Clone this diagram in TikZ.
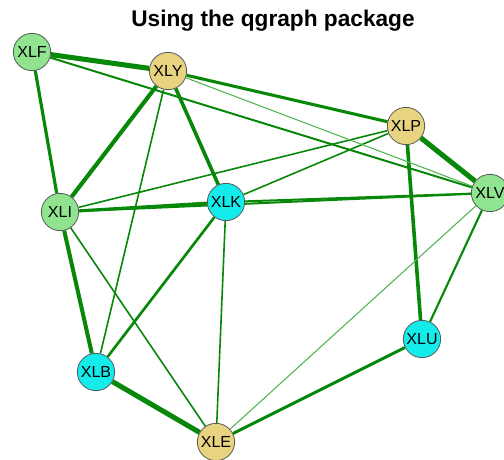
\documentclass[tikz,border=0pt]{standalone}
\usepackage{fontspec}
\setmainfont{Liberation Sans}
\usetikzlibrary{backgrounds}
\definecolor{nodegreen}{RGB}{144,228,144}
\definecolor{nodecyan}{RGB}{20,236,236}
\definecolor{nodetan}{RGB}{232,212,128}
\definecolor{edgedark}{RGB}{8,136,8}
\definecolor{edgelight}{RGB}{80,180,80}
\tikzset{
  vert/.style={circle, draw=black!65, line width=0.6pt, minimum size=28pt,
    inner sep=0pt, font=\fontsize{12}{12}\selectfont},
  grn/.style={vert, fill=nodegreen},
  cyn/.style={vert, fill=nodecyan},
  tan/.style={vert, fill=nodetan},
  e/.style={draw=edgedark, line width=#1},
  ew/.style={draw=edgelight, line width=#1},
}
\begin{document}
\begin{tikzpicture}[x=0.75pt, y=-0.75pt]
\useasboundingbox (0,0) rectangle (504,460);
\node[font=\bfseries\fontsize{17}{17}\selectfont] (title) at (273,21) {Using the qgraph package};

\node[grn] (XLF) at (32,52) {XLF};
\node[tan] (XLY) at (168,71) {XLY};
\node[tan] (XLP) at (406,126) {XLP};
\node[grn] (XLV) at (490,193) {XLV};
\node[grn] (XLI) at (60,212) {XLI};
\node[cyn] (XLK) at (226,202) {XLK};
\node[cyn] (XLU) at (422,339) {XLU};
\node[cyn] (XLB) at (96,372) {XLB};
\node[tan] (XLE) at (216,442) {XLE};

\begin{scope}[on background layer]
  % strong ties
  \draw[e=3.8pt] (XLF) -- (XLY);
  \draw[e=3.8pt] (XLB) -- (XLE);
  \draw[e=3.8pt] (XLP) -- (XLV);
  \draw[e=3.1pt] (XLY) -- (XLI);
  \draw[e=3pt] (XLI) -- (XLB);
  \draw[e=2.7pt] (XLY) -- (XLK);
  \draw[e=2.7pt] (XLP) -- (XLU);
  \draw[e=2.4pt] (XLF) -- (XLI);
  \draw[e=2.3pt] (XLY) -- (XLP);
  \draw[e=2.3pt] (XLU) -- (XLE);
  \draw[e=2.3pt] (XLI) -- (XLK);
  \draw[e=2pt] (XLK) -- (XLB);
  % moderate ties
  \draw[e=1.6pt] (XLV) -- (XLU);
  \draw[e=1.5pt] (XLF) -- (XLV);
  \draw[e=1.5pt] (XLI) -- (XLV);
  \draw[e=1.5pt] (XLK) -- (XLV);
  \draw[e=1.2pt] (XLP) -- (XLI);
  \draw[e=1.2pt] (XLP) -- (XLK);
  \draw[e=1.2pt] (XLI) -- (XLE);
  \draw[e=1.2pt] (XLK) -- (XLE);
  \draw[e=1.2pt] (XLY) -- (XLB);
  % weak ties
  \draw[ew=0.8pt] (XLY) -- (XLV);
  \draw[ew=0.8pt] (XLV) -- (XLE);
\end{scope}
\end{tikzpicture}
\end{document}
